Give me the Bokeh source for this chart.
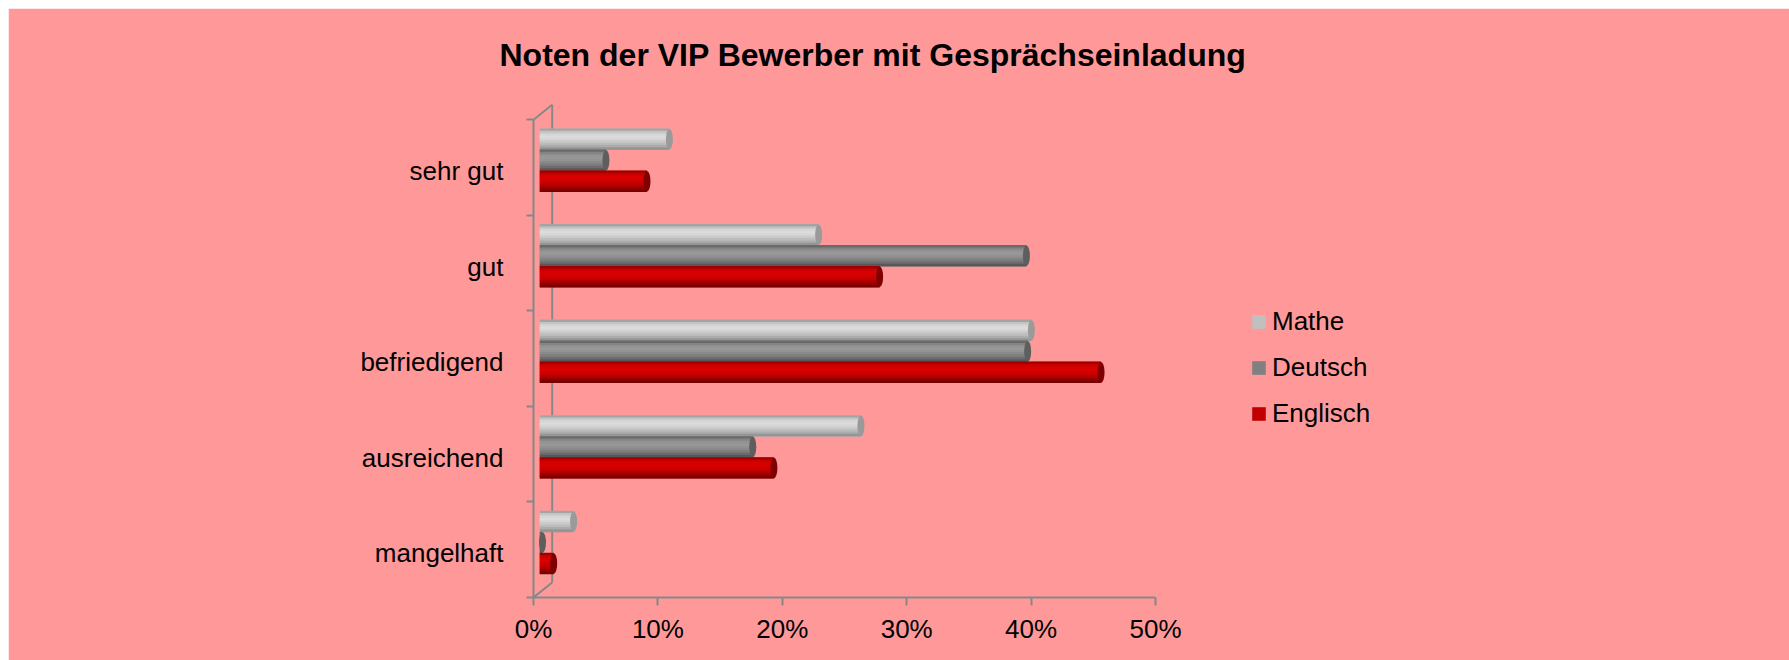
from bokeh.plotting import figure
from bokeh.models import (Range1d, FixedTicker, PrintfTickFormatter, Title,
                          Legend, LegendItem)
from bokeh.embed import file_html
from bokeh.resources import INLINE

# ---------------- data ----------------
categories = ["sehr gut", "gut", "befriedigend", "ausreichend", "mangelhaft"]
series_names = ["Mathe", "Deutsch", "Englisch"]
mathe = [10.2, 22.2, 39.3, 25.6, 2.5]
deutsch = [5.1, 38.9, 39.0, 16.9, 0.0]
englisch = [8.4, 27.1, 44.9, 18.6, 0.9]
x_ticks = [0, 10, 20, 30, 40, 50]
title_text = "Noten der VIP Bewerber mit Gesprächseinladung"

# ---------------- layout / style ----------------
W, H = 1781, 652
LEFT, BOTTOM, TOP = 525, 63, 80
PX_X = 12.44          # px per percent
PX_Y = 95.54          # px per category band
x_end = (W - LEFT) / PX_X
y_end = (H - BOTTOM - TOP) / PX_Y
BG = "#FF9999"
AX = "#878787"
FONT = "Liberation Sans"

DX = 9.0 / PX_X        # half depth shift of the bars
DY = 7.3 / PX_Y
BAR_H = 21.0 / PX_Y
WALL_DX = 18.7 / PX_X  # full depth of the 3D wall
WALL_DY = 15.0 / PX_Y
LABEL_SHIFT = 3.5 / PX_Y

p = figure(width=W, height=H, x_range=Range1d(0, x_end), y_range=Range1d(0, y_end),
           min_border_left=LEFT, min_border_right=0, min_border_top=TOP,
           min_border_bottom=BOTTOM, output_backend="svg", toolbar_location=None,
           background_fill_color=BG, border_fill_color=BG,
           outline_line_color=BG, outline_line_width=2,
           margin=(8, 0, 0, 8))
p.xgrid.visible = False
p.ygrid.visible = False

n = len(categories)
centers = [n - i - 0.5 for i in range(n)]
bounds = list(range(n + 1))

# back wall lines (3D depth)
p.segment(x0=[0, 0, WALL_DX], y0=[0, n, WALL_DY],
          x1=[WALL_DX, WALL_DX, WALL_DX], y1=[WALL_DY, n + WALL_DY, n + WALL_DY],
          line_color=AX, line_width=2)

gradients = {
    "Mathe": ["#a4a4a4", "#c4c4c4", "#d5d5d5", "#dcdcdc", "#d6d6d6", "#cacaca",
              "#bcbcbc", "#acacac", "#959595"],
    "Deutsch": ["#6a6a6a", "#848484", "#939393", "#989898", "#939393", "#898989",
                "#7d7d7d", "#6d6d6d", "#585858"],
    "Englisch": ["#a00000", "#c80000", "#d60000", "#d80000", "#d00000", "#c40000",
                 "#b20000", "#980000", "#780000"],
}
caps = {"Mathe": "#9a9a9a", "Deutsch": "#5e5e5e", "Englisch": "#7e0000"}
legend_colors = {"Mathe": "#C0C0C0", "Deutsch": "#808080", "Englisch": "#C00000"}
values = {"Mathe": mathe, "Deutsch": deutsch, "Englisch": englisch}
offsets = {"Mathe": BAR_H, "Deutsch": 0.0, "Englisch": -BAR_H}

items = []
for s in series_names:
    vals = values[s]
    ys = [c + DY + offsets[s] for c in centers]
    rights = [DX + v for v in vals]
    base = p.hbar(y=ys, left=DX - 0.22, right=rights, height=BAR_H,
                  fill_color=legend_colors[s], line_color=None)
    items.append(LegendItem(label=s, renderers=[base]))
    grad = gradients[s]
    k = len(grad)
    sh = BAR_H / k
    for j, col in enumerate(grad):
        yy = [y + BAR_H / 2 - sh * (j + 0.5) for y in ys]
        p.hbar(y=yy, left=DX - 0.22, right=rights, height=sh * 1.2,
               fill_color=col, line_color=None)
    p.ellipse(x=rights, y=ys, width=7, height=BAR_H * 0.98, width_units="screen",
              height_units="data", fill_color=caps[s], line_color=None)

legend = Legend(items=items, location=(717, 168), padding=0, spacing=15,
                glyph_width=17, glyph_height=17, label_standoff=5, label_height=30,
                label_text_font=FONT, label_text_font_size="26px",
                label_text_color="black", background_fill_alpha=0,
                border_line_alpha=0)
p.add_layout(legend)

# x axis
xa = p.xaxis[0]
xa.ticker = FixedTicker(ticks=x_ticks)
xa.formatter = PrintfTickFormatter(format="%d%%")
xa.bounds = (0, 50)
xa.axis_line_color = AX
xa.axis_line_width = 2
xa.major_tick_line_color = AX
xa.major_tick_line_width = 2
xa.major_tick_out = 8
xa.major_tick_in = 0
xa.minor_tick_out = 0
xa.minor_tick_in = 0
xa.major_label_text_font = FONT
xa.major_label_text_font_size = "26px"
xa.major_label_text_color = "black"
xa.major_label_standoff = 8

# y axis
label_pos = [c - LABEL_SHIFT for c in centers]
ya = p.yaxis[0]
ya.ticker = FixedTicker(ticks=label_pos, minor_ticks=bounds)
ya.major_label_overrides = {c: name for c, name in zip(label_pos, categories)}
ya.bounds = (0, n)
ya.axis_line_color = AX
ya.axis_line_width = 2
ya.major_tick_out = 0
ya.major_tick_in = 0
ya.minor_tick_out = 7
ya.minor_tick_in = 0
ya.minor_tick_line_color = AX
ya.minor_tick_line_width = 2
ya.major_label_text_font = FONT
ya.major_label_text_font_size = "26px"
ya.major_label_text_color = "black"
ya.major_label_standoff = 23

# title: left edge at canvas x=491, i.e. 34 px left of the frame
title = Title(text=title_text, align="left", offset=-34,
              text_font=FONT, text_font_style="bold", text_font_size="32px",
              text_color="black", standoff=32)
p.add_layout(title, "above")

open("out.html", "w").write(file_html(p, INLINE))
